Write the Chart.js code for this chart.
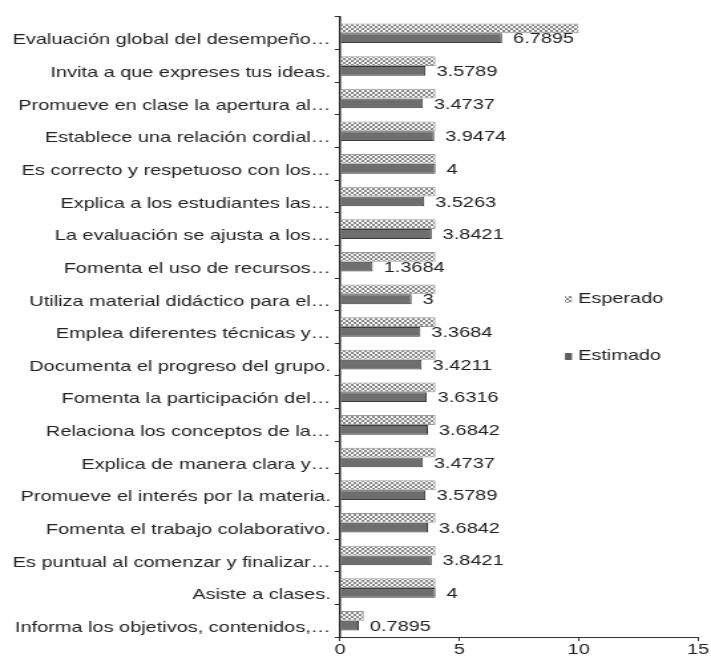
<!DOCTYPE html>
<html>
<head>
<meta charset="utf-8">
<script src="https://cdn.jsdelivr.net/npm/chart.js@4"></script>
<style>
  html, body { margin: 0; padding: 0; background: #fff; }
  #chart { width: 711px; height: 660px; display: block; }
</style>
</head>
<body>
<!-- the original picture is stretched sideways, so the canvas is drawn narrower and widened by css -->
<canvas id="chart" width="535" height="660" style="width:711px;height:660px"></canvas>
<script>
// Data
const categories = [
  "Evaluación global del desempeño…",
  "Invita a que expreses tus ideas.",
  "Promueve en clase la apertura al…",
  "Establece una relación cordial…",
  "Es correcto y respetuoso con los…",
  "Explica a los estudiantes las…",
  "La evaluación se ajusta a los…",
  "Fomenta el uso de recursos…",
  "Utiliza material didáctico para el…",
  "Emplea diferentes técnicas y…",
  "Documenta el progreso del grupo.",
  "Fomenta la participación del…",
  "Relaciona los conceptos de la…",
  "Explica de manera clara y…",
  "Promueve el interés por la materia.",
  "Fomenta el trabajo colaborativo.",
  "Es puntual al comenzar y finalizar…",
  "Asiste a clases.",
  "Informa los objetivos, contenidos,…"
]
const esperado = [10, 4, 4, 4, 4, 4, 4, 4, 4, 4, 4, 4, 4, 4, 4, 4, 4, 4, 1]
const estimado = [6.7895, 3.5789, 3.4737, 3.9474, 4, 3.5263, 3.8421, 1.3684, 3, 3.3684,
  3.4211, 3.6316, 3.6842, 3.4737, 3.5789, 3.6842, 3.8421, 4, 0.7895]
const xTicks = [0, 5, 10, 15]

const SX = 711 / 535   // horizontal stretch
const FONT = "'Liberation Sans', Arial, sans-serif"

// Hatch pattern for "Esperado"
function makePattern() {
  const c = document.createElement("canvas")
  c.width = 4; c.height = 4
  const g = c.getContext("2d")
  g.fillStyle = "#f2f2f2"
  g.fillRect(0, 0, 4, 4)
  g.fillStyle = "#8a8a8a"
  g.fillRect(0, 0, 2, 2)
  g.fillRect(2, 2, 2, 2)
  return g.createPattern(c, "repeat")
}
const hatch = makePattern()

// value labels next to Estimado bars
const valueLabels = {
  id: "valueLabels",
  afterDatasetsDraw(chart) {
    const ctx = chart.ctx
    const meta = chart.getDatasetMeta(1)
    ctx.save()
    ctx.font = "15px " + FONT
    ctx.fillStyle = "#222"
    ctx.textBaseline = "middle"
    ctx.textAlign = "left"
    meta.data.forEach((bar, i) => {
      ctx.fillText(String(estimado[i]), bar.x + 11 / SX, bar.y + 1)
    })
    ctx.restore()
  }
}

// legend drawn inside plot area
const floatLegend = {
  id: "floatLegend",
  afterDraw(chart) {
    const ctx = chart.ctx
    const items = [
      { text: chart.data.datasets[0].label, fill: hatch, y: 299 },
      { text: chart.data.datasets[1].label, fill: "#5e5e5e", y: 356 }
    ]
    ctx.save()
    ctx.font = "15px " + FONT
    ctx.textBaseline = "middle"
    items.forEach(it => {
      ctx.fillStyle = it.fill
      ctx.fillRect(565 / SX, it.y - 3, 7 / SX, 7)
      ctx.fillStyle = "#222"
      ctx.fillText(it.text, 578 / SX, it.y)
    })
    ctx.restore()
  }
}

new Chart(document.getElementById("chart"), {
  type: "bar",
  data: {
    labels: categories,
    datasets: [
      { label: "Esperado", data: esperado, backgroundColor: hatch, borderColor: "#9a9a9a", borderWidth: 1,
        barPercentage: 1, categoryPercentage: 0.6 },
      { label: "Estimado", data: estimado, backgroundColor: "#6e6e6e", borderColor: "#3c3c3c", borderWidth: 1,
        barPercentage: 1, categoryPercentage: 0.6 }
    ]
  },
  options: {
    indexAxis: "y",
    responsive: false,
    animation: false,
    devicePixelRatio: 1,
    layout: { padding: { top: 17, right: 13 / SX, left: 0, bottom: 0 } },
    plugins: { legend: { display: false }, tooltip: { enabled: false } },
    scales: {
      x: {
        min: 0, max: 15,
        afterBuildTicks(scale) { scale.ticks = xTicks.map(v => ({ value: v })) },
        afterFit(scale) { scale.height = 23 },
        grid: { display: true, drawOnChartArea: false, drawTicks: true, tickLength: 4, color: "#333" },
        border: { display: true, color: "#333", width: 1 },
        ticks: { color: "#222", font: { family: FONT, size: 15 }, padding: 0, maxRotation: 0 }
      },
      y: {
        afterFit(scale) { scale.width = 340 / SX },
        grid: { display: true, drawOnChartArea: false, offset: true, tickLength: 4, color: "#333" },
        border: { display: true, color: "#222", width: 1.5 },
        ticks: { color: "#222", font: { family: FONT, size: 15 }, padding: 3, labelOffset: 7, autoSkip: false }
      }
    }
  },
  plugins: [valueLabels, floatLegend]
})
</script>
</body>
</html>
